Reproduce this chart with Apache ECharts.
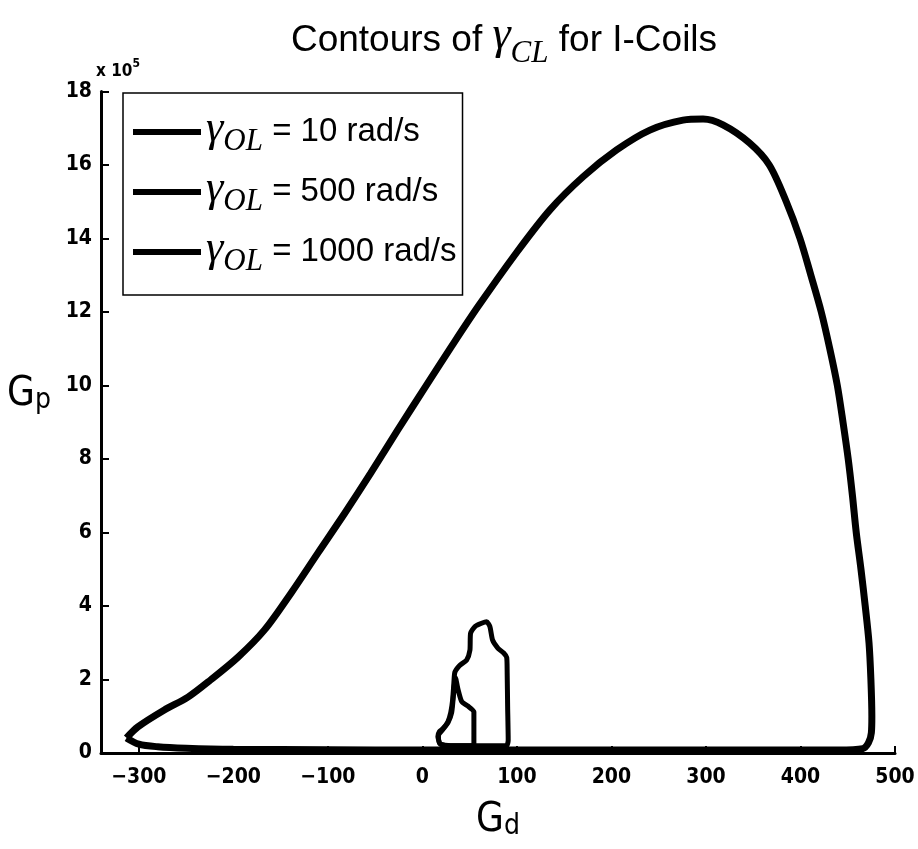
<!DOCTYPE html>
<html><head><meta charset="utf-8">
<script src="https://cdn.jsdelivr.net/npm/echarts@6/dist/echarts.min.js"></script>
<style>html,body{margin:0;padding:0;background:#fff}#c{width:918px;height:849px}</style>
</head><body><div id="c"></div>
<script>
// G_d (x) and G_p (y, in units of 1e5)
const legendLabels = ['10 rad/s', '500 rad/s', '1000 rad/s'];
const xTicks = [-300, -200, -100, 0, 100, 200, 300, 400, 500];

const gd10 = [-313,-301,-273,-248,-224,-195,-167,-139,-110.6,-82,-54.5,-26,2.3,30,58.7,99.7,135,170,205.5,240.7,275.7,297,318,346,367,385,399.5,411,422,431,439,445,450.5,455,459,464,468.5,472.5,474.5,475.5,475,472,466,440,400,300,200,100,0,-100,-200,-250,-280,-300,-313];
const gp10 = [0.41,0.71,1.17,1.52,1.99,2.61,3.35,4.35,5.44,6.53,7.62,8.79,9.93,11.03,12.14,13.62,14.78,15.68,16.41,16.95,17.22,17.25,17.09,16.6,16,15,14,13,12,11,10,9,8,7,6,5,4,3,2,1,0.55,0.28,0.12,0.08,0.08,0.08,0.08,0.08,0.08,0.09,0.1,0.13,0.17,0.24,0.41];

const gd500 = [18.5,16.4,18,21.7,27,30,32,33.3,34.4,39.7,46.8,50.3,51,55.6,62.6,68,71.4,74.3,80,86,89.2,89.7,90.2,90.8,89,60,25,18.5];
const gp500 = [0.25,0.45,0.58,0.66,0.85,1.1,1.44,1.9,2.2,2.39,2.53,2.8,3.26,3.44,3.53,3.57,3.44,3.07,2.85,2.72,2.6,2.18,1.26,0.35,0.2,0.2,0.2,0.25];

const gd1000 = [54.5,54.5,48,41.6,37.5,35,33,31,27,21,17,18.5,30,54.5];
const gp1000 = [0.2,1.12,1.28,1.4,1.75,2.05,1.6,1.1,0.82,0.62,0.48,0.25,0.2,0.2];

const pairs = (xs, ys) => xs.map((x, i) => [x, ys[i]]);

const narrow = '"Liberation Sans Narrow", "DejaVu Sans Condensed", "Liberation Sans", sans-serif';
const sans = '"Liberation Sans", Arial, sans-serif';
const serif = '"Liberation Serif", "DejaVu Serif", serif';

const chart = echarts.init(document.getElementById('c'), null, {renderer: 'canvas'});
const names = legendLabels.map(l => 'γOL = ' + l);

chart.setOption({
  backgroundColor: '#fff',
  animation: false,
  title: {
    text: '{a|Contours of }{g|γ}{s|CL}{a| for I-Coils}',
    left: 499, top: 8, textAlign: 'center',
    textStyle: {
      fontWeight: 'normal',
      rich: {
        a: {fontFamily: sans, fontWeight: 'normal', fontSize: 37, color: '#000', lineHeight: 56},
        g: {fontFamily: serif, fontStyle: 'italic', fontWeight: 'normal', fontSize: 46, color: '#000', verticalAlign: 'top', lineHeight: 40},
        s: {fontFamily: serif, fontStyle: 'italic', fontWeight: 'normal', fontSize: 31, color: '#000', verticalAlign: 'bottom', lineHeight: 34}
      }
    }
  },
  graphic: [{
    type: 'text', left: 96, top: 58,
    style: {
      text: '{a|x 10}{b|5}',
      rich: {
        a: {fontFamily: narrow, fontWeight: 'bold', fontSize: 17, fill: '#000', verticalAlign: 'bottom', lineHeight: 22},
        b: {fontFamily: narrow, fontWeight: 'bold', fontSize: 12, fill: '#000', verticalAlign: 'top', lineHeight: 12}
      }
    }
  }],
  legend: {
    orient: 'vertical', left: 123, top: 93,
    padding: [14, 6, 18, 10],
    itemGap: 10,
    itemWidth: 68, itemHeight: 6,
    icon: 'rect',
    backgroundColor: '#fff',
    borderColor: '#000', borderWidth: 1.5, borderRadius: 0,
    data: names,
    formatter: function (name) {
      const lab = name.replace('γOL = ', '');
      return '{g|γ}{s|OL}{t| = ' + lab + '}';
    },
    textStyle: {
      rich: {
        g: {fontFamily: serif, fontStyle: 'italic', fontSize: 44, color: '#000', verticalAlign: 'top', lineHeight: 28},
        s: {fontFamily: serif, fontStyle: 'italic', fontSize: 31, color: '#000', verticalAlign: 'bottom', lineHeight: 32},
        t: {fontFamily: sans, fontSize: 33, color: '#000', lineHeight: 50}
      }
    }
  },
  grid: {left: 101, right: 23, top: 91.5, bottom: 96, containLabel: false},
  xAxis: {
    type: 'value', min: -340, max: 500,
    name: '{G|G}{d|d}', nameLocation: 'middle', nameGap: 48,
    nameTextStyle: {
      rich: {
        G: {fontFamily: narrow, fontSize: 40, color: '#000', lineHeight: 40},
        d: {fontFamily: narrow, fontSize: 28, color: '#000', verticalAlign: 'bottom', lineHeight: 26}
      }
    },
    axisLine: {show: true, onZero: false, lineStyle: {color: '#000', width: 3}},
    axisTick: {show: true, inside: true, length: 7, customValues: xTicks, lineStyle: {color: '#000', width: 2}},
    axisLabel: {customValues: xTicks, margin: 14, color: '#000', fontFamily: narrow, fontWeight: 'bold', fontSize: 21,
      formatter: v => (v < 0 ? '\u2212' + Math.abs(v) : String(v))},
    splitLine: {show: false}
  },
  yAxis: {
    type: 'value', min: 0, max: 18, interval: 2,
    name: '{G|G}{p|p}', nameLocation: 'middle', nameRotate: 0, nameGap: 50,
    nameTextStyle: {
      padding: [0, 0, 56, 0],
      rich: {
        G: {fontFamily: narrow, fontSize: 40, color: '#000', lineHeight: 40},
        p: {fontFamily: narrow, fontSize: 28, color: '#000', verticalAlign: 'bottom', lineHeight: 26}
      }
    },
    axisLine: {show: true, onZero: false, lineStyle: {color: '#000', width: 3}},
    axisTick: {show: true, inside: true, length: 8, lineStyle: {color: '#000', width: 2}},
    axisLabel: {margin: 9, color: '#000', fontFamily: narrow, fontWeight: 'bold', fontSize: 21},
    splitLine: {show: false}
  },
  series: [
    {name: names[0], type: 'line', data: pairs(gd10, gp10), showSymbol: false, smooth: 0.3, clip: false,
     lineStyle: {color: '#000', width: 7}, itemStyle: {color: '#000'}},
    {name: names[1], type: 'line', data: pairs(gd500, gp500), showSymbol: false, smooth: 0.2, clip: false,
     lineStyle: {color: '#000', width: 5}, itemStyle: {color: '#000'}},
    {name: names[2], type: 'line', data: pairs(gd1000, gp1000), showSymbol: false, smooth: 0.2, clip: false,
     lineStyle: {color: '#000', width: 5}, itemStyle: {color: '#000'}}
  ]
});
</script></body></html>
